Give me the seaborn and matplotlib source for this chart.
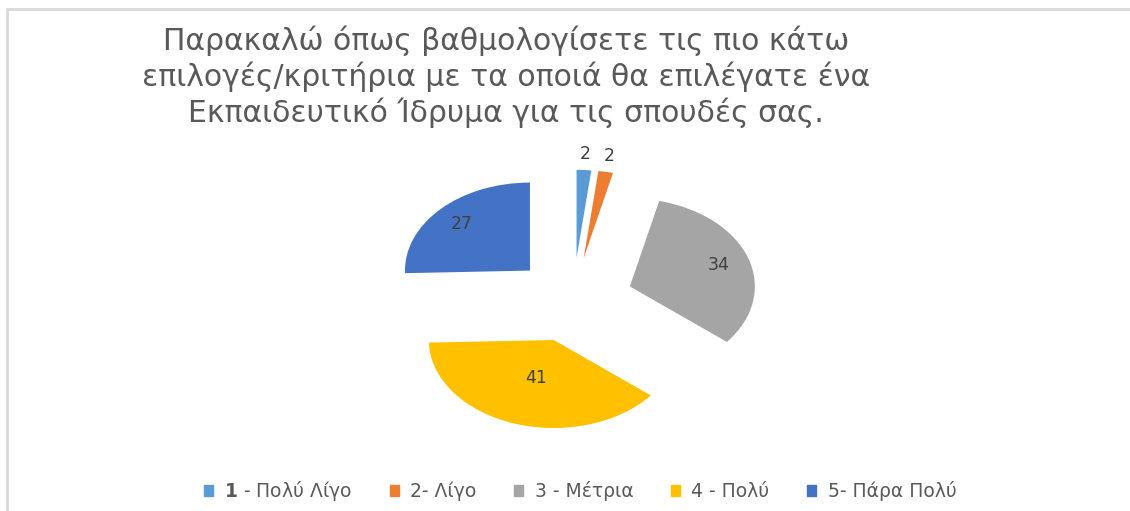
import matplotlib
matplotlib.use("Agg")
import matplotlib.pyplot as plt
import matplotlib.patches as mpatches
from matplotlib.lines import Line2D
import numpy as np
import seaborn as sns

# data
categories = ["$\\mathbf{1}$ - Πολύ Λίγο", "2- Λίγο", "3 - Μέτρια", "4 - Πολύ", "5- Πάρα Πολύ"]
values = [2, 2, 34, 41, 27]
title = ("Παρακαλώ όπως βαθμολογίσετε τις πιο κάτω\n"
         "επιλογές/κριτήρια με τα οποιά θα επιλέγατε ένα\n"
         "Εκπαιδευτικό Ίδρυμα για τις σπουδές σας.")

sns.set_theme(style="white")
plt.rcParams['font.family'] = ['DejaVu Sans']
colors = sns.color_palette(["#5B9BD5", "#ED7D31", "#A5A5A5", "#FFC000", "#4472C4"])

fig = plt.figure(figsize=(11.3, 5.11), dpi=100)
ax = fig.add_axes([0, 0, 1, 1])

explode = [0.48] * len(values)
wedges, _ = ax.pie(values, colors=colors, startangle=90, counterclock=False,
                   explode=explode, wedgeprops={"linewidth": 0})

# value labels, per-slice distance from the slice apex
label_dist = [1.18, 1.18, 0.75, 0.45, 0.76]
for w, v, e, ld in zip(wedges, values, explode, label_dist):
    ang = np.deg2rad((w.theta1 + w.theta2) / 2)
    r = e + ld
    ax.text(r * np.cos(ang), r * np.sin(ang), str(v), ha="center", va="center",
            fontsize=12.5, color="#404040")

# the original is stretched horizontally
ax.set_aspect("auto")
cx, cy, rx, ry = 573, 300, 125, 88
ax.set_xlim(-cx / rx, (1130 - cx) / rx)
ax.set_ylim(-(511 - cy) / ry, cy / ry)
ax.axis("off")

fig.text(506 / 1130, 1 - 77 / 511, title, ha="center", va="center",
         multialignment="center", fontsize=21.5, color="#595959", linespacing=1.22)

handles = [mpatches.Patch(color=c, label=l) for c, l in zip(colors, categories)]
fig.legend(handles=handles, loc="center", bbox_to_anchor=(580 / 1130, 1 - 491 / 511),
           ncol=5, frameon=False, fontsize=13.5, labelcolor="#595959",
           handlelength=0.5, handleheight=0.5, handletextpad=0.6, columnspacing=2.0)

# chart border (left and top visible)
fig.add_artist(Line2D([7 / 1130, 7 / 1130], [0, 1 - 9 / 511], transform=fig.transFigure,
                      color="#d9d9d9", linewidth=2))
fig.add_artist(Line2D([7 / 1130, 1], [1 - 9 / 511, 1 - 9 / 511], transform=fig.transFigure,
                      color="#d9d9d9", linewidth=2))

fig.savefig("out.png", dpi=100)
